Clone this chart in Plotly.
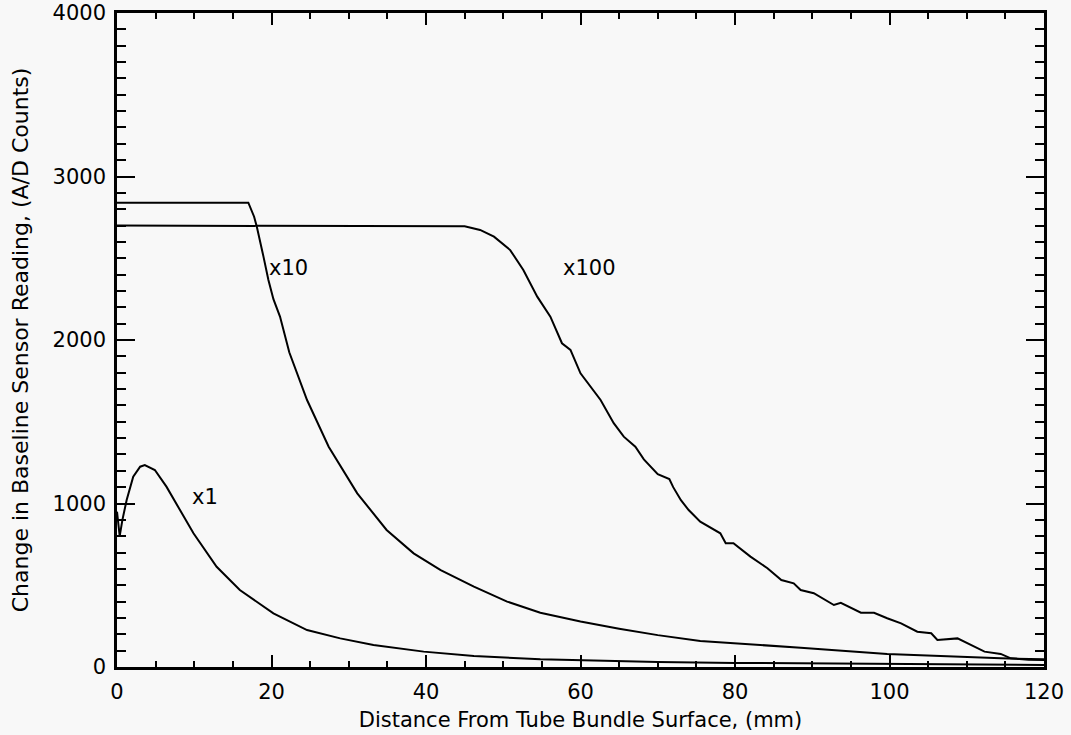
import plotly.graph_objects as go

# x1 series
x1_x = [0, 0.35, 0.7, 1.25, 2.1, 3.0, 3.6, 4.9, 6.4, 8.2, 9.9, 12.9, 15.9, 20.25, 24.6,
        28.9, 33.2, 39.7, 46.2, 54.8, 60, 70, 80, 90, 100, 110, 120]
x1_y = [950, 800, 900, 1021, 1164, 1225, 1235, 1205, 1103, 960, 818, 613, 471, 328, 226,
        175, 135, 94, 67, 47, 40, 30, 25, 21, 18, 15, 12]

# x10 series
x10_x = [0, 17.0, 17.75, 18.1, 18.96, 19.6, 20.25, 21.1, 22.3, 24.6, 27.4, 31.1, 34.9,
         38.4, 41.9, 46.2, 50.5, 54.8, 60, 65, 70, 75.5, 88.5, 99.7, 114.4, 120]
x10_y = [2840, 2840, 2754, 2693, 2510, 2367, 2250, 2143, 1925, 1633, 1347, 1062, 838,
         695, 593, 491, 400, 332, 278, 234, 195, 159, 118, 80, 53, 47]

# x100 series
x100_x = [0, 45, 47, 48.8, 50.9, 52.6, 54.4, 56.1, 57.6, 58.7, 60.0, 61.7, 62.6, 64.3,
          65.6, 67.1, 68.2, 70, 71.5, 72, 73, 74, 75.5, 78.1, 78.8, 79.8, 82.0, 84.2,
          86.0, 87.6, 88.5, 90.2, 92.8, 93.7, 96.3, 98.0, 99.7, 101.5, 103.6, 105.4,
          106.2, 108.8, 110.1, 112.3, 114.4, 115.7, 118, 120]
x100_y = [2700, 2695, 2673, 2632, 2550, 2428, 2265, 2143, 1980, 1939, 1796, 1694, 1633,
          1491, 1409, 1347, 1270, 1180, 1150, 1100, 1020, 960, 889, 818, 757, 757, 675,
          604, 532, 512, 471, 451, 379, 393, 332, 332, 298, 267, 216, 206, 165, 175, 145,
          94, 80, 53, 45, 43]

labels = ["x1", "x10", "x100"]
label_x = [11.4, 22.2, 61.2]
label_y = [1040, 2440, 2440]

x_ticks = [0, 20, 40, 60, 80, 100, 120]
y_ticks = [0, 1000, 2000, 3000, 4000]

FONT = "DejaVu Sans"
BG = "#f8f8f8"

fig = go.Figure()
for xs, ys in [(x1_x, x1_y), (x10_x, x10_y), (x100_x, x100_y)]:
    fig.add_trace(go.Scatter(x=xs, y=ys, mode="lines",
                             line=dict(color="black", width=2), showlegend=False))

for t, xx, yy in zip(labels, label_x, label_y):
    fig.add_annotation(x=xx, y=yy, text=t, showarrow=False,
                       font=dict(family=FONT, size=21, color="black"))

fig.update_layout(
    width=1071, height=735,
    margin=dict(l=117, r=27, t=13, b=68),
    paper_bgcolor=BG, plot_bgcolor=BG,
    font=dict(family=FONT, color="black"),
)
fig.update_xaxes(
    range=[0, 120], tickvals=x_ticks, ticktext=[str(v) for v in x_ticks],
    showgrid=False, zeroline=False, showline=True, linecolor="black", linewidth=2.5,
    mirror="ticks", ticks="inside", ticklen=12, tickwidth=2, tickcolor="black",
    minor=dict(dtick=5, ticks="inside", ticklen=6, tickwidth=2, tickcolor="black", showgrid=False),
    tickfont=dict(family=FONT, size=21), automargin=False, ticklabelstandoff=4,
    title=dict(text="Distance From Tube Bundle Surface, (mm)", font=dict(family=FONT, size=21), standoff=10),
)
fig.update_yaxes(
    range=[0, 4000], tickvals=y_ticks, ticktext=[str(v) for v in y_ticks],
    showgrid=False, zeroline=False, showline=True, linecolor="black", linewidth=2.5,
    mirror="ticks", ticks="inside", ticklen=18, tickwidth=2, tickcolor="black",
    minor=dict(dtick=100, ticks="inside", ticklen=9, tickwidth=2, tickcolor="black", showgrid=False),
    tickfont=dict(family=FONT, size=21), automargin=False, ticklabelstandoff=4,
    title=dict(text="Change in Baseline Sensor Reading, (A/D Counts)", font=dict(family=FONT, size=22), standoff=18),
)

fig.write_html("out.html", config={"displayModeBar": False},
               post_script="document.body.style.margin='0';")
